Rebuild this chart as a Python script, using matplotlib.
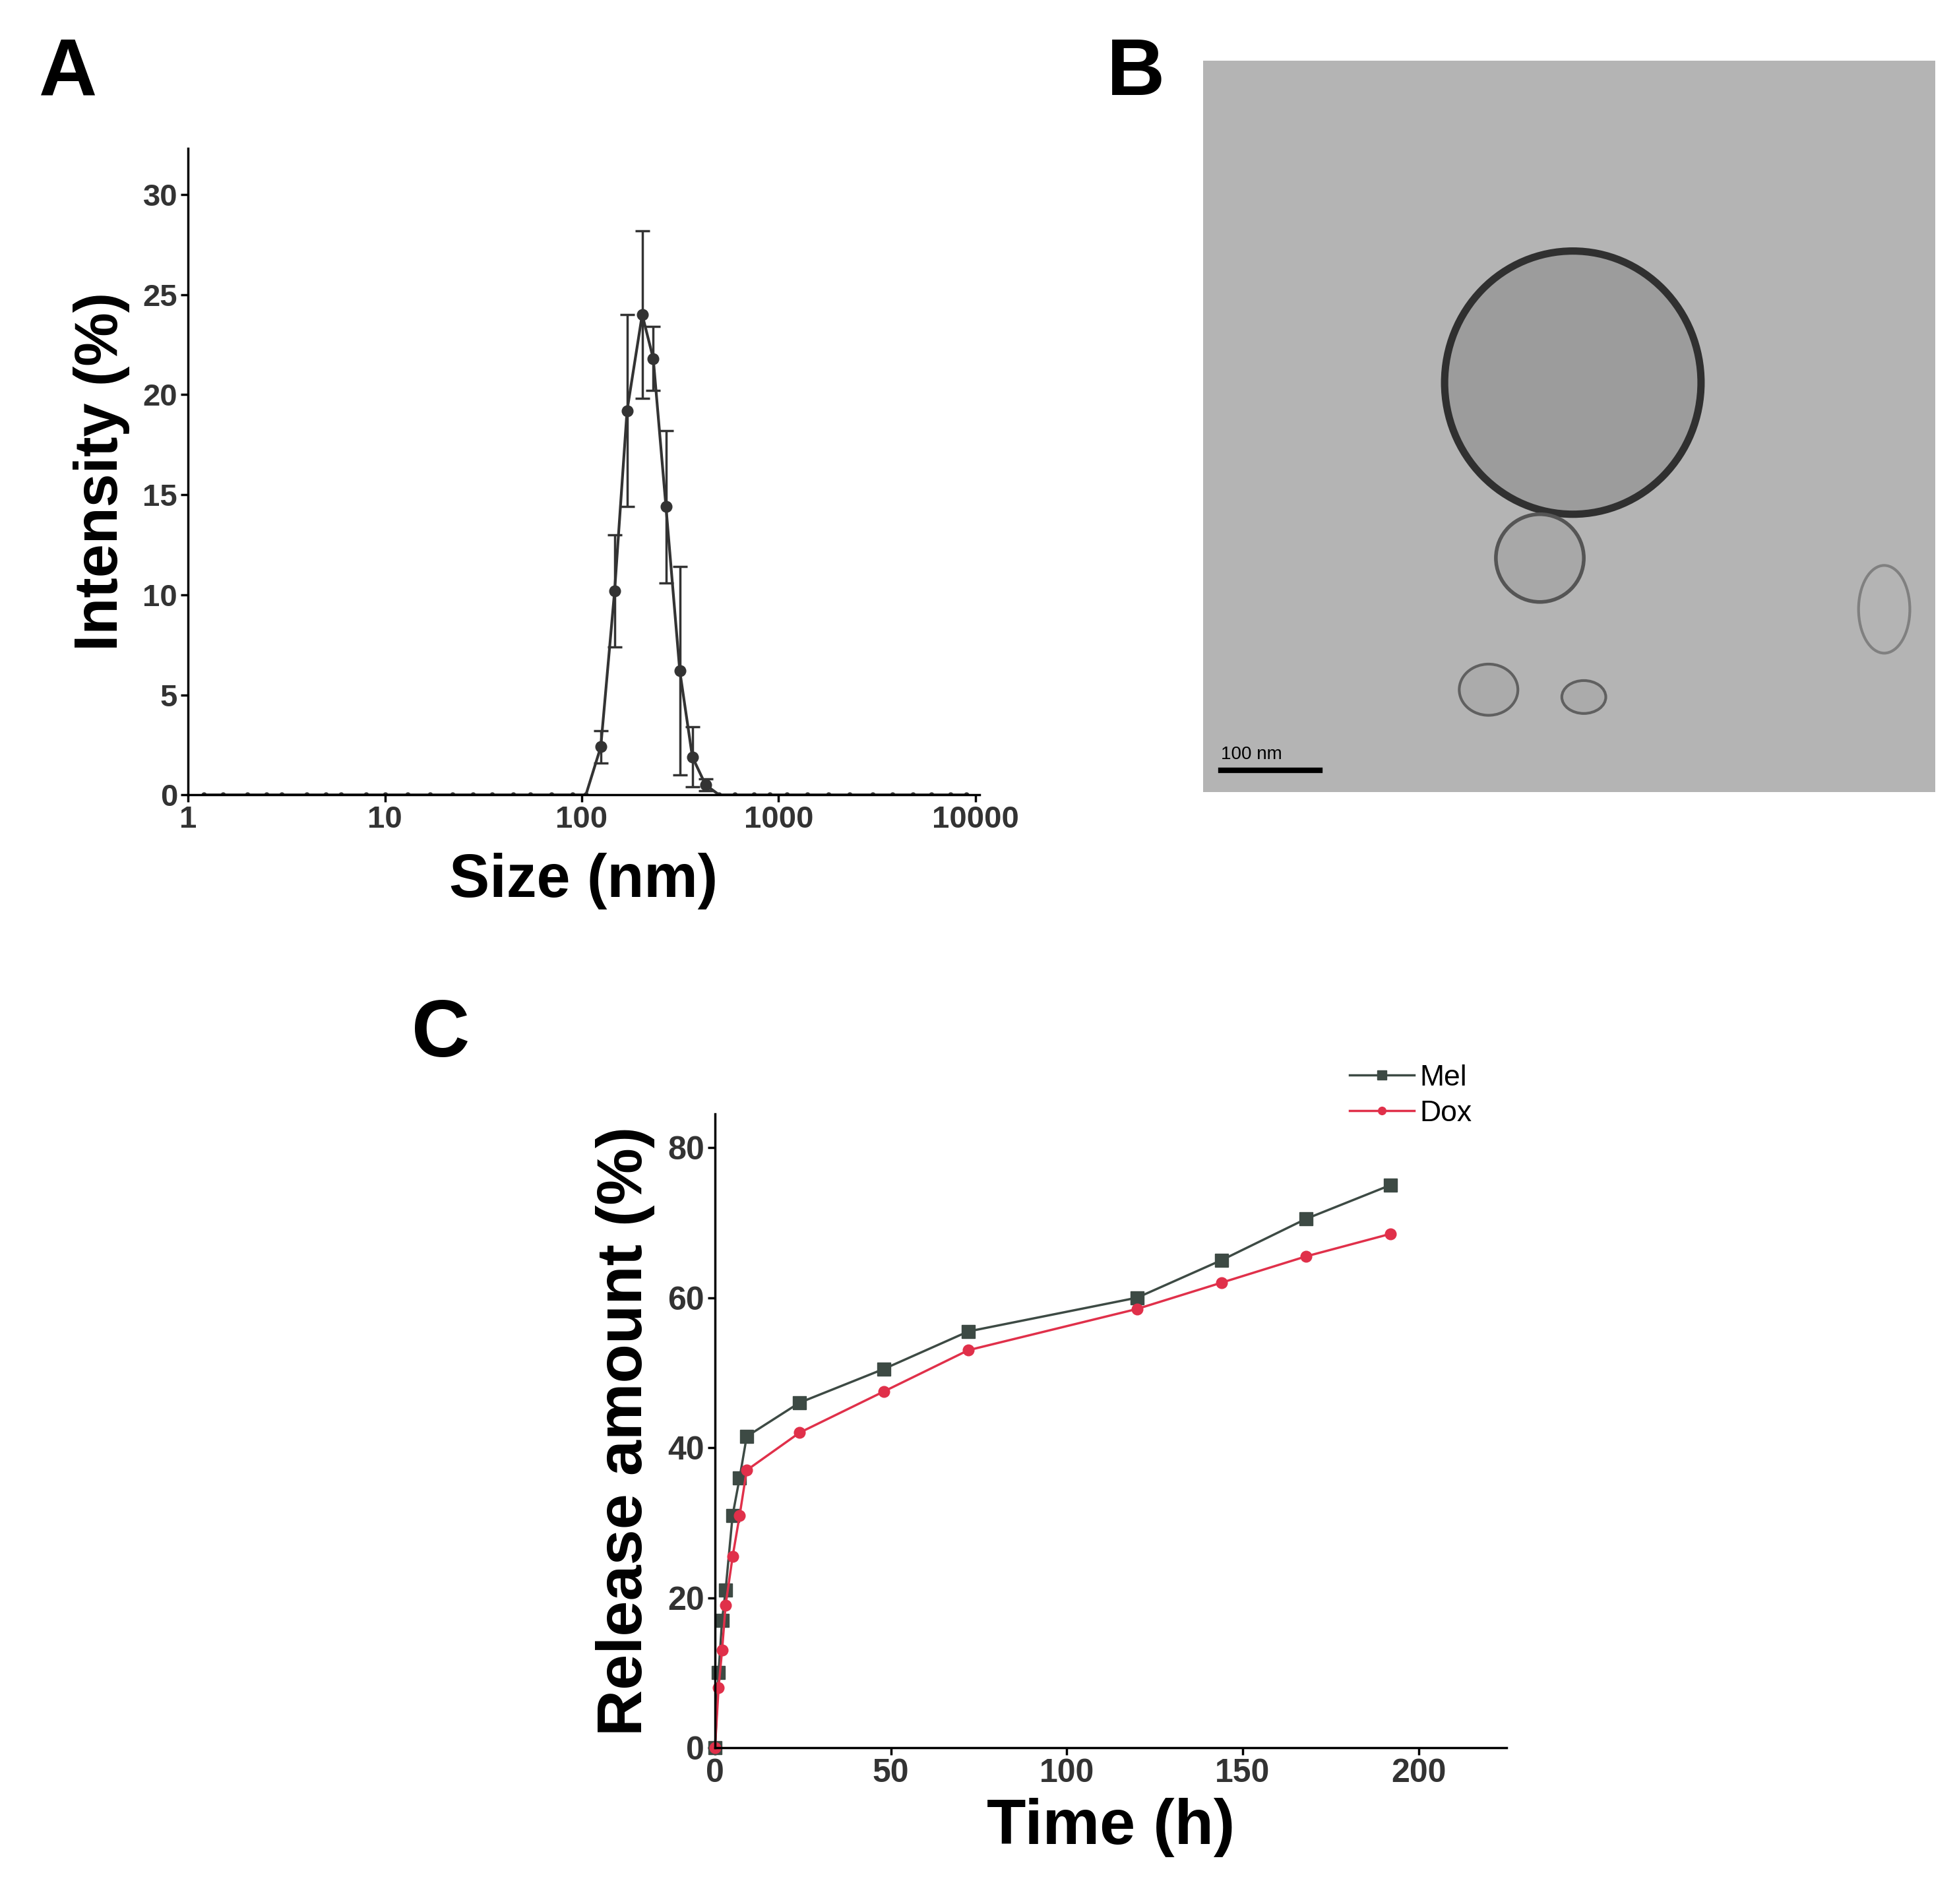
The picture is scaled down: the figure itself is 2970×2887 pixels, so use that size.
import matplotlib
matplotlib.use("Agg")
import matplotlib.pyplot as plt
import numpy as np
from matplotlib.patches import Circle, Ellipse

plt.rcParams['font.family'] = ['Liberation Sans', 'DejaVu Sans']

# Panel A data
sizes = [125, 147, 170, 203, 231, 268, 315, 365, 426]
intensity = [2.4, 10.2, 19.2, 24.0, 21.8, 14.4, 6.2, 1.9, 0.5]
intensity_err = [0.8, 2.8, 4.8, 4.2, 1.6, 3.8, 5.2, 1.5, 0.3]
base_sizes = [1.2, 1.5, 2, 2.5, 3, 4, 5, 6, 8, 10, 13, 17, 22, 28, 35, 45, 55, 70, 90, 105,
              500, 600, 750, 900, 1100, 1400, 1800, 2300, 3000, 3800, 4800, 6000, 7500, 9000]

# Panel C data
time_h = [0, 1, 2, 3, 5, 7, 9, 24, 48, 72, 120, 144, 168, 192]
mel = [0, 10, 17, 21, 31, 36, 41.5, 46, 50.5, 55.5, 60, 65, 70.5, 75]
dox = [0, 8, 13, 19, 25.5, 31, 37, 42, 47.5, 53, 58.5, 62, 65.5, 68.5]

fig = plt.figure(figsize=(29.70, 28.87), dpi=100)

# ---- Panel A ----
axA = fig.add_axes([0.096, 0.5825, 0.404, 0.3395])
allx = sorted(base_sizes + sizes)
ally = [intensity[sizes.index(s)] if s in sizes else 0 for s in allx]
axA.plot(allx, ally, color='#333333', lw=3)
axA.errorbar(sizes, intensity, yerr=intensity_err, fmt='o', color='#333333', ms=12,
             capsize=8, elinewidth=2.5, capthick=2.5)
axA.plot(base_sizes, [0]*len(base_sizes), 'o', color='#333333', ms=5)
axA.set_xscale('log')
axA.set_xlim(1, 10500)
axA.set_ylim(0, 32.3)
axA.set_xticks([1, 10, 100, 1000, 10000])
axA.set_xticklabels(['1', '10', '100', '1000', '10000'])
axA.set_yticks([0, 5, 10, 15, 20, 25, 30])
axA.minorticks_off()
for s in ['top', 'right']:
    axA.spines[s].set_visible(False)
for s in ['left', 'bottom']:
    axA.spines[s].set_linewidth(2.5)
axA.tick_params(labelsize=34, width=2.5, length=8)
for t in axA.get_xticklabels() + axA.get_yticklabels():
    t.set_fontweight('bold'); t.set_color('#333333')
axA.set_xlabel('Size (nm)', fontsize=66, fontweight='bold', labelpad=20)
axA.set_ylabel('Intensity (%)', fontsize=66, fontweight='bold', labelpad=14)
fig.text(0.02, 0.95, 'A', fontsize=88, fontweight='bold')

# ---- Panel B (TEM micrograph placeholder) ----
axB = fig.add_axes([0.614, 0.584, 0.374, 0.384])
axB.set_xlim(0, 1); axB.set_ylim(0, 1)
axB.set_facecolor('#b4b4b4')
axB.add_patch(Ellipse((0.505, 0.56), 0.35, 0.36, facecolor='#9c9c9c', edgecolor='#303030', lw=8))
axB.add_patch(Circle((0.46, 0.32), 0.06, facecolor='#a8a8a8', edgecolor='#555555', lw=4))
axB.add_patch(Ellipse((0.39, 0.14), 0.08, 0.07, facecolor='#ababab', edgecolor='#606060', lw=3))
axB.add_patch(Ellipse((0.52, 0.13), 0.06, 0.045, facecolor='#ababab', edgecolor='#606060', lw=3))
axB.add_patch(Ellipse((0.93, 0.25), 0.07, 0.12, facecolor='none', edgecolor='#808080', lw=3))
axB.plot([0.025, 0.16], [0.03, 0.03], color='black', lw=6)
axB.text(0.025, 0.045, '100 nm', fontsize=20, color='black')
axB.set_xticks([]); axB.set_yticks([])
for s in axB.spines.values():
    s.set_visible(False)
fig.text(0.565, 0.95, 'B', fontsize=88, fontweight='bold')

# ---- Panel C ----
axC = fig.add_axes([0.365, 0.082, 0.404, 0.333])
axC.plot(time_h, mel, '-s', color='#3d4a44', ms=14, lw=2.5, label='Mel', clip_on=False)
axC.plot(time_h, dox, '-o', color='#e0304a', ms=12, lw=2.5, label='Dox', clip_on=False)
axC.set_xlim(0, 225)
axC.set_ylim(0, 84.5)
axC.set_xticks([0, 50, 100, 150, 200])
axC.set_yticks([0, 20, 40, 60, 80])
for s in ['top', 'right']:
    axC.spines[s].set_visible(False)
for s in ['left', 'bottom']:
    axC.spines[s].set_linewidth(2.5)
axC.tick_params(labelsize=36, width=2.5, length=8)
for t in axC.get_xticklabels() + axC.get_yticklabels():
    t.set_fontweight('bold'); t.set_color('#333333')
axC.set_xlabel('Time (h)', fontsize=70, fontweight='bold', labelpad=10)
axC.set_ylabel('Release amount (%)', fontsize=70, fontweight='bold', labelpad=14)
axC.legend(loc='upper right', bbox_to_anchor=(0.99, 1.12), frameon=False, fontsize=32,
           handlelength=2.2, handletextpad=0.2, labelspacing=0.3, markerscale=0.7)
fig.text(0.21, 0.445, 'C', fontsize=88, fontweight='bold')

fig.savefig('out.png', dpi=100)
